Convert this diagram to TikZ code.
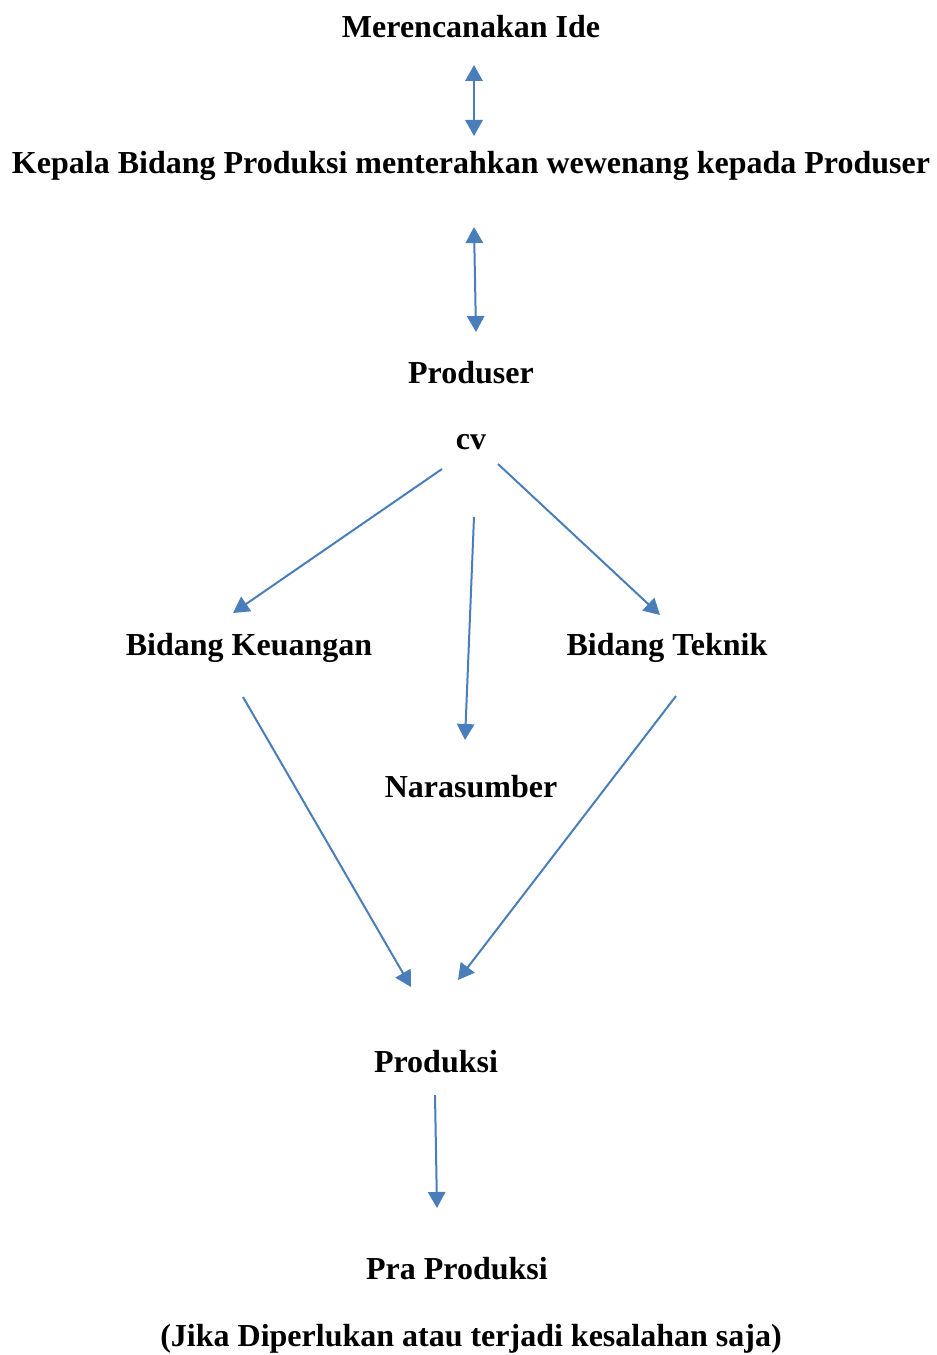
\documentclass[tikz,border=0pt]{standalone}
\usepackage{fontspec}
\setmainfont{Liberation Serif}
\usetikzlibrary{arrows.meta}
\definecolor{arrowblue}{HTML}{4A7EBB}
\tikzset{
  lbl/.style={font=\fontsize{24pt}{28pt}\selectfont\bfseries, inner sep=0pt, anchor=center, yshift=-1.5pt},
  conn/.style={draw=arrowblue, line width=1.5pt, -{Triangle[length=12pt,width=13pt]}},
  biconn/.style={draw=arrowblue, line width=1.5pt, {Triangle[length=12pt,width=13pt]}-{Triangle[length=12pt,width=13pt]}}
}
\begin{document}
\begin{tikzpicture}[x=0.75pt,y=-0.75pt]
\useasboundingbox (0,0) rectangle (937,1355);
\node[lbl] (ide) at (471,25) {Merencanakan Ide};
\node[lbl] (kepala) at (471,164) {Kepala Bidang Produksi menterahkan wewenang kepada Produser};
\node[lbl] (produser) at (471,371) {Produser};
\node[lbl] (cv) at (471,440) {cv};
\node[lbl] (keu) at (249,646) {Bidang Keuangan};
\node[lbl] (tek) at (667,646) {Bidang Teknik};
\node[lbl] (nara) at (471,785) {Narasumber};
\node[lbl] (prod) at (436,1060) {Produksi};
\node[lbl] (pra) at (457,1267) {Pra Produksi};
\node[lbl] (jika) at (471,1337) {(Jika Diperlukan atau terjadi kesalahan saja)};

\coordinate (a1s) at (474,65);  \coordinate (a1e) at (474,136);
\coordinate (a2s) at (474,227); \coordinate (a2e) at (476,332);
\coordinate (b1s) at (442,469); \coordinate (b1e) at (233,613);
\coordinate (b2s) at (474,517); \coordinate (b2e) at (465,740);
\coordinate (b3s) at (498,464); \coordinate (b3e) at (660,615);
\coordinate (c1s) at (243,697); \coordinate (c1e) at (411,987);
\coordinate (c2s) at (676,696); \coordinate (c2e) at (458,980);
\coordinate (d1s) at (435,1095); \coordinate (d1e) at (437,1208);

\draw[biconn] (a1s) -- (a1e);
\draw[biconn] (a2s) -- (a2e);
\draw[conn] (b1s) -- (b1e);
\draw[conn] (b2s) -- (b2e);
\draw[conn] (b3s) -- (b3e);
\draw[conn] (c1s) -- (c1e);
\draw[conn] (c2s) -- (c2e);
\draw[conn] (d1s) -- (d1e);
\end{tikzpicture}
\end{document}
